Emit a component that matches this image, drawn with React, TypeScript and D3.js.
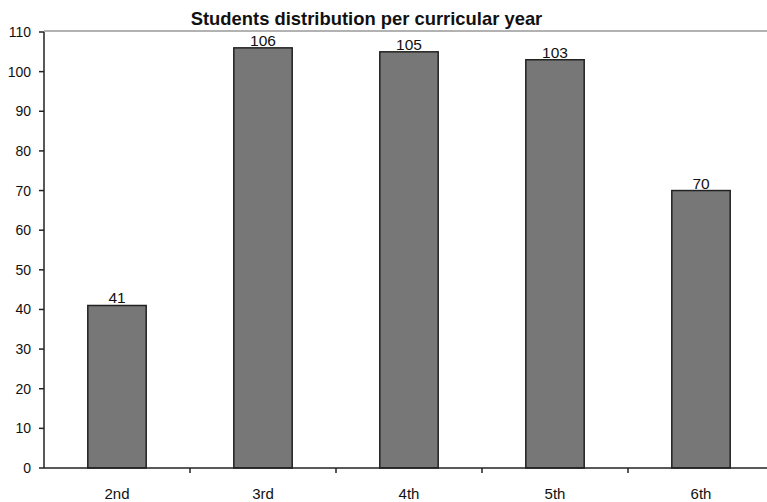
import React from "react";
import * as d3 from "d3";

const categories = ["2nd", "3rd", "4th", "5th", "6th"];
const values = [41, 106, 105, 103, 70];
const yTicks = [0, 10, 20, 30, 40, 50, 60, 70, 80, 90, 100, 110];
const title = "Students distribution per curricular year";

export default function App() {
  const W = 767, H = 502;
  const left = 44, top = 32, bottom = 468, rightEnd = 774;
  const x = d3.scaleBand<string>().domain(categories).range([left, rightEnd]).paddingInner(0.6).paddingOuter(0.3);
  const y = d3.scaleLinear().domain([0, 110]).range([bottom, top]);
  const step = x.step();
  const font = "Arial, 'Liberation Sans', sans-serif";
  return (
    <svg width={W} height={H} style={{ position: "absolute", left: 0, top: 0, background: "#fff" }} fontFamily={font}>
      <text x={366.5} y={25} textAnchor="middle" fontSize={18.4} fontWeight="bold" fill="#111">{title}</text>
      <line x1={left} x2={W} y1={y(110) - 1} y2={y(110) - 1} stroke="#999" strokeWidth={1.5} />
      {values.map((v, i) => (
        <g key={i}>
          <rect x={x(categories[i])!} y={y(v)} width={x.bandwidth()} height={bottom - y(v)} fill="#777" stroke="#222" strokeWidth={1.5} />
          <text x={x(categories[i])! + x.bandwidth() / 2} y={y(v) - 2} textAnchor="middle" fontSize={15.5} fill="#111">{v}</text>
        </g>
      ))}
      <line x1={left} x2={left} y1={top} y2={bottom} stroke="#222" strokeWidth={1.5} />
      <line x1={left} x2={W} y1={bottom} y2={bottom} stroke="#222" strokeWidth={1.5} />
      {yTicks.map((t) => (
        <g key={t}>
          <line x1={left - 5} x2={left} y1={y(t)} y2={y(t)} stroke="#222" strokeWidth={1.5} />
          <text x={31} y={y(t) + 5} textAnchor="end" fontSize={14} fill="#111">{t}</text>
        </g>
      ))}
      {categories.map((c, i) => (
        <g key={c}>
          {i > 0 && <line x1={left + step * i} x2={left + step * i} y1={bottom} y2={bottom + 5} stroke="#222" strokeWidth={1.5} />}
          <text x={x(c)! + x.bandwidth() / 2} y={499} textAnchor="middle" fontSize={15} fill="#111">{c}</text>
        </g>
      ))}
    </svg>
  );
}
